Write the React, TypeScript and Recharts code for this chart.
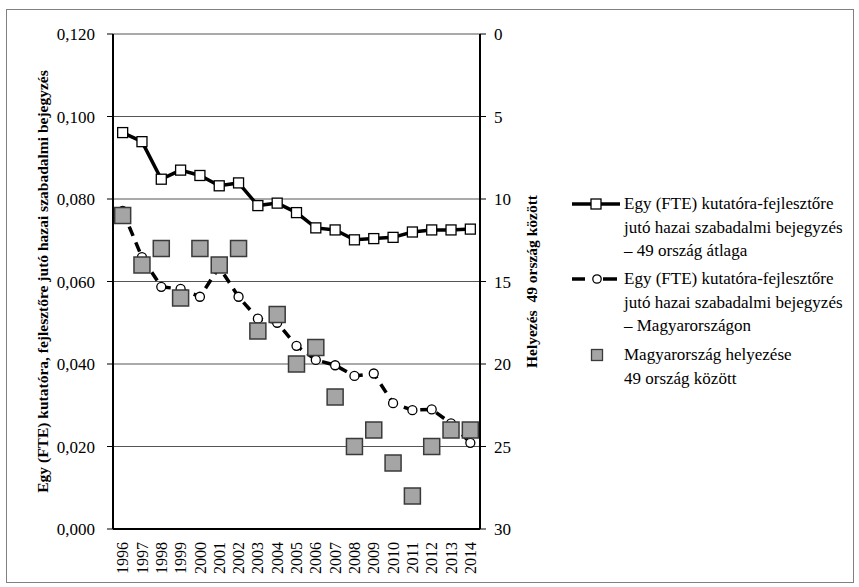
import React from 'react';
import { ComposedChart, Line, XAxis, YAxis, CartesianGrid, Legend } from 'recharts';

const YEARS = ['1996', '1997', '1998', '1999', '2000', '2001', '2002', '2003', '2004', '2005', '2006', '2007', '2008', '2009', '2010', '2011', '2012', '2013', '2014'];
const AVG_49 = [0.0961, 0.0939, 0.0848, 0.087, 0.0857, 0.0832, 0.0839, 0.0784, 0.079, 0.0767, 0.073, 0.0725, 0.0701, 0.0704, 0.0707, 0.072, 0.0725, 0.0725, 0.0727];
const HUNGARY = [0.0771, 0.0659, 0.0587, 0.0582, 0.0563, 0.0635, 0.0563, 0.051, 0.05, 0.0444, 0.041, 0.0397, 0.0371, 0.0377, 0.0305, 0.0288, 0.029, 0.0256, 0.0209];
const RANK = [11, 14, 13, 16, 13, 14, 13, 18, 17, 20, 19, 22, 25, 24, 26, 28, 25, 24, 24];

const LEFT_TICKS = [0, 0.02, 0.04, 0.06, 0.08, 0.1, 0.12];
const RIGHT_TICKS = [0, 5, 10, 15, 20, 25, 30];
const GRID_TICKS = [0, 1, 2, 3, 4, 5, 6, 7, 8, 9, 10, 11, 12, 13, 14, 15, 16, 17, 18, 19];

const LEFT_TITLE = 'Egy (FTE) kutatóra, fejlesztőre jutó hazai szabadalmi bejegyzés';
const RIGHT_TITLE = 'Helyezés\u00a0\u00a049 ország között';
const LEGEND_AVG = ['Egy (FTE) kutatóra-fejlesztőre', 'jutó hazai szabadalmi bejegyzés', '– 49 ország átlaga'];
const LEGEND_HU = ['Egy (FTE) kutatóra-fejlesztőre', 'jutó hazai szabadalmi bejegyzés', '– Magyarországon'];
const LEGEND_RANK = ['Magyarország helyezése', '49 ország között'];

const FONT = '"Liberation Serif", "Times New Roman", serif';
const GRID = '#555';
const RANK_FILL = '#a5a5a5';

const data = YEARS.map((year, i) => ({
  year,
  avg: AVG_49[i],
  hu: HUNGARY[i],
  rank: RANK[i],
}));

const SquareDot = (props: any) => {
  const { cx, cy } = props;
  if (cx == null || cy == null) return null;
  return <rect x={cx - 5} y={cy - 5} width={10} height={10} fill="#fff" stroke="#000" strokeWidth={1.3} />;
};

const CircleDot = (props: any) => {
  const { cx, cy } = props;
  if (cx == null || cy == null) return null;
  return <circle cx={cx} cy={cy} r={4.5} fill="#fff" stroke="#000" strokeWidth={1.3} />;
};

const RankDot = (props: any) => {
  const { cx, cy } = props;
  if (cx == null || cy == null) return null;
  return <rect x={cx - 8} y={cy - 8} width={16} height={16} fill={RANK_FILL} stroke="#3a3a3a" strokeWidth={1.5} />;
};

const YearTick = (props: any) => {
  const { x, y, payload } = props;
  return (
    <text
      transform={`translate(${x},${y + 9}) rotate(-90)`}
      textAnchor="end"
      dy="0.35em"
      fontFamily={FONT}
      fontSize={16}
      fill="#000"
    >
      {payload.value}
    </text>
  );
};

const AxisTitle = (props: any) => {
  const { viewBox, shift, text } = props;
  const cx = viewBox.x + shift;
  const cy = viewBox.y + viewBox.height / 2;
  return (
    <text
      transform={`translate(${cx},${cy}) rotate(-90)`}
      textAnchor="middle"
      dy="0.35em"
      fontFamily={FONT}
      fontSize={15.5}
      fontWeight="bold"
      fill="#000"
    >
      {text}
    </text>
  );
};

const LegendIcon = ({ kind }: { kind: string }) => (
  <svg width={50} height={24} style={{ position: 'absolute', left: 12, top: 0 }}>
    {kind === 'avg' && (
      <>
        <line x1={0} y1={12} x2={48} y2={12} stroke="#000" strokeWidth={3.5} />
        <rect x={19} y={7} width={10} height={10} fill="#fff" stroke="#000" strokeWidth={1.3} />
      </>
    )}
    {kind === 'hu' && (
      <>
        <line x1={0} y1={12} x2={13} y2={12} stroke="#000" strokeWidth={3.5} />
        <line x1={31} y1={12} x2={45} y2={12} stroke="#000" strokeWidth={3.5} />
        <circle cx={25} cy={12} r={4.2} fill="#fff" stroke="#000" strokeWidth={1.3} />
      </>
    )}
    {kind === 'rank' && (
      <rect x={19.5} y={6.5} width={11} height={11} fill={RANK_FILL} stroke="#3a3a3a" strokeWidth={1.3} />
    )}
  </svg>
);

const LEGEND_ROWS = [
  { kind: 'avg', lines: LEGEND_AVG, top: 2 },
  { kind: 'hu', lines: LEGEND_HU, top: 77 },
  { kind: 'rank', lines: LEGEND_RANK, top: 153 },
];

const LegendBox = () => (
  <div style={{ position: 'relative', width: 290, height: 210, fontFamily: FONT, fontSize: 17, color: '#000' }}>
    {LEGEND_ROWS.map((row) => (
      <div key={row.kind} style={{ position: 'absolute', left: 0, top: row.top, width: 290 }}>
        <LegendIcon kind={row.kind} />
        <div style={{ marginLeft: 64, lineHeight: '23.5px', whiteSpace: 'nowrap' }}>
          {row.lines.map((l) => (
            <div key={l}>{l}</div>
          ))}
        </div>
      </div>
    ))}
  </div>
);

export default function App() {
  return (
    <div style={{ position: 'absolute', left: 0, top: 0, width: 859, height: 587, background: '#fff' }}>
      <div style={{ position: 'absolute', left: 6, top: 9, width: 846, height: 572, border: '1px solid #808080' }} />
      <div style={{ position: 'absolute', left: 0, top: 0 }}>
        <ComposedChart
          width={859}
          height={587}
          data={data}
          margin={{ top: 34, right: 319, bottom: 8, left: 53 }}
        >
          <CartesianGrid xAxisId="a" yAxisId="v" stroke={GRID} strokeWidth={1} />
          <XAxis
            xAxisId="b"
            dataKey="year"
            type="category"
            scale="band"
            interval={0}
            height={46}
            axisLine={false}
            tickLine={false}
            tickSize={0}
            tickMargin={0}
            tick={<YearTick />}
          />
          <XAxis
            xAxisId="a"
            type="number"
            domain={[0, 19]}
            allowDataOverflow
            ticks={GRID_TICKS}
            tick={false}
            tickSize={5}
            height={4}
            axisLine={{ stroke: '#000', strokeWidth: 2 }}
            tickLine={{ stroke: '#000', strokeWidth: 1 }}
          />
          <YAxis
            yAxisId="v"
            width={60}
            domain={[0, 0.12]}
            ticks={LEFT_TICKS}
            tickFormatter={(v: number) => v.toFixed(3).replace('.', ',')}
            tickSize={6}
            tickMargin={12}
            axisLine={{ stroke: '#000', strokeWidth: 2 }}
            tickLine={{ stroke: '#000', strokeWidth: 1 }}
            tick={{ fontFamily: FONT, fontSize: 17, fill: '#000' }}
            label={<AxisTitle shift={-10} text={LEFT_TITLE} />}
          />
          <YAxis
            yAxisId="rank"
            orientation="right"
            width={60}
            domain={[0, 30]}
            reversed
            ticks={RIGHT_TICKS}
            tickSize={6}
            tickMargin={8}
            axisLine={{ stroke: '#000', strokeWidth: 2 }}
            tickLine={{ stroke: '#000', strokeWidth: 1 }}
            tick={{ fontFamily: FONT, fontSize: 17, fill: '#000', textAnchor: 'start' }}
            label={<AxisTitle shift={52} text={RIGHT_TITLE} />}
          />
          <Line
            xAxisId="b"
            yAxisId="v"
            dataKey="avg"
            stroke="#000"
            strokeWidth={3.5}
            dot={<SquareDot />}
            isAnimationActive={false}
          />
          <Line
            xAxisId="b"
            yAxisId="v"
            dataKey="hu"
            stroke="#000"
            strokeWidth={3.5}
            strokeDasharray="10 7"
            dot={<CircleDot />}
            isAnimationActive={false}
          />
          <Line
            xAxisId="b"
            yAxisId="rank"
            dataKey="rank"
            stroke="none"
            dot={<RankDot />}
            isAnimationActive={false}
          />
          <Legend
            layout="horizontal"
            align="center"
            verticalAlign="middle"
            wrapperStyle={{ left: 560, top: 190, width: 290 }}
            content={() => <LegendBox />}
          />
        </ComposedChart>
      </div>
    </div>
  );
}
